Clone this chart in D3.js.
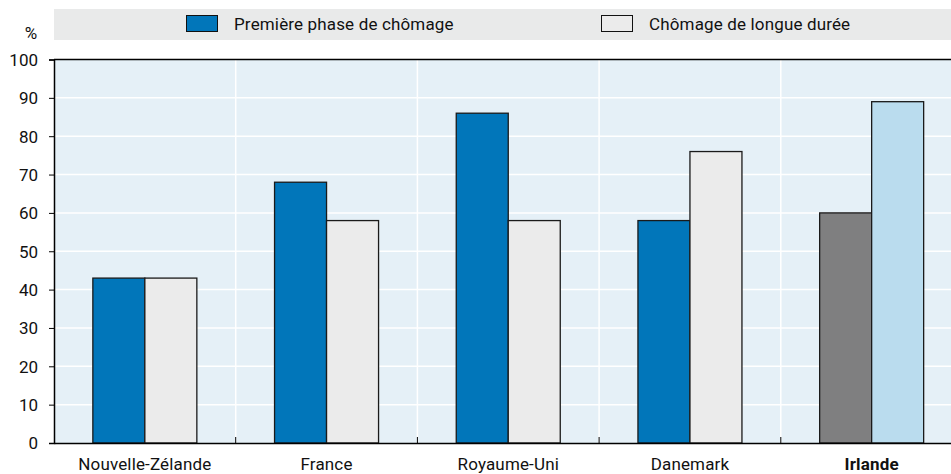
<!DOCTYPE html>
<html><head><meta charset="utf-8">
<script src="https://cdn.jsdelivr.net/npm/d3@7"></script>
<style>
body{margin:0;background:#fff;}
svg text{font-family:Roboto,"Liberation Sans",sans-serif;font-size:17px;fill:#111;}
.lab{letter-spacing:0.15px;}
</style></head>
<body><svg id="c" width="951" height="474"></svg>
<script>
const categories = ["Nouvelle-Zélande","France","Royaume-Uni","Danemark","Irlande"];
const seriesNames = ["Première phase de chômage","Chômage de longue durée"];
const firstPhase = [43,68,86,58,60];
const longTerm = [43,58,58,76,89];
const yTicks = [0,10,20,30,40,50,60,70,80,90,100];

const svg = d3.select("#c");
const mLeft = 54, mTop = 59.5, mBottom = 443, bandW = 181.7;
const x = d3.scaleBand().domain(categories).range([mLeft, mLeft + bandW*categories.length]);
const y = d3.scaleLinear().domain([0,100]).range([mBottom, mTop]);
const barW = 52;

// legend band
svg.append("rect").attr("x",54).attr("y",9).attr("width",897).attr("height",31).attr("fill","#e9eaea");
const leg = [{x:186, fill:"#0176ba"},{x:601, fill:"#ebebeb"}];
leg.forEach((l,i)=>{
  svg.append("rect").attr("x",l.x+0.5).attr("y",15.5).attr("width",31).attr("height",16).attr("fill",l.fill).attr("stroke","#111").attr("stroke-width",1);
  svg.append("text").attr("class","lab").attr("x",l.x+48).attr("y",30).text(seriesNames[i]);
});

// plot bg
svg.append("rect").attr("x",mLeft).attr("y",mTop).attr("width",x.range()[1]-mLeft).attr("height",mBottom-mTop).attr("fill","#e5f0f7");
// gridlines
svg.append("g").selectAll("line").data(yTicks.slice(1,-1)).join("line")
  .attr("x1",mLeft).attr("x2",x.range()[1]).attr("y1",d=>y(d)).attr("y2",d=>y(d))
  .attr("stroke","#fff").attr("stroke-width",1.5);
svg.append("g").selectAll("line").data(categories.slice(1)).join("line")
  .attr("x1",d=>x(d)).attr("x2",d=>x(d)).attr("y1",mTop).attr("y2",mBottom)
  .attr("stroke","#fff").attr("stroke-width",1.5);

// bars
categories.forEach((c,i)=>{
  const cx = x(c) + x.bandwidth()/2;
  const isIr = c==="Irlande";
  [[firstPhase[i], isIr?"#7f7f80":"#0176ba", cx-barW],[longTerm[i], isIr?"#badcee":"#ebebeb", cx]].forEach(([v,f,bx])=>{
    svg.append("rect").attr("x",bx).attr("y",y(v)).attr("width",barW).attr("height",mBottom-y(v))
      .attr("fill",f).attr("stroke","#1a1a1a").attr("stroke-width",1.3);
  });
});

// top border
svg.append("line").attr("x1",mLeft).attr("x2",x.range()[1]).attr("y1",mTop).attr("y2",mTop).attr("stroke","#000").attr("stroke-width",1.5);

// y axis
const ya = svg.append("g").attr("transform",`translate(${mLeft},0)`).call(d3.axisLeft(y).tickValues(yTicks).tickSize(5).tickPadding(11));
ya.select(".domain").attr("stroke","#000").attr("stroke-width",1.5);
ya.selectAll("text").attr("dy","0.35em");
ya.selectAll("line").attr("stroke","#000");
svg.append("text").attr("x",31).attr("y",39).attr("text-anchor","middle").text("%");

// x axis
const xa = svg.append("g").attr("transform",`translate(0,${mBottom})`).call(d3.axisBottom(x).tickSize(0).tickPadding(15));
xa.select(".domain").attr("stroke","#000").attr("stroke-width",1.5);
xa.selectAll("text").attr("class","lab").attr("dy","0.71em").style("font-weight",d=>d==="Irlande"?"bold":"normal");
svg.append("g").selectAll("line").data(categories.slice(1)).join("line")
  .attr("x1",d=>x(d)).attr("x2",d=>x(d)).attr("y1",mBottom).attr("y2",mBottom-6).attr("stroke","#000");
</script></body></html>
